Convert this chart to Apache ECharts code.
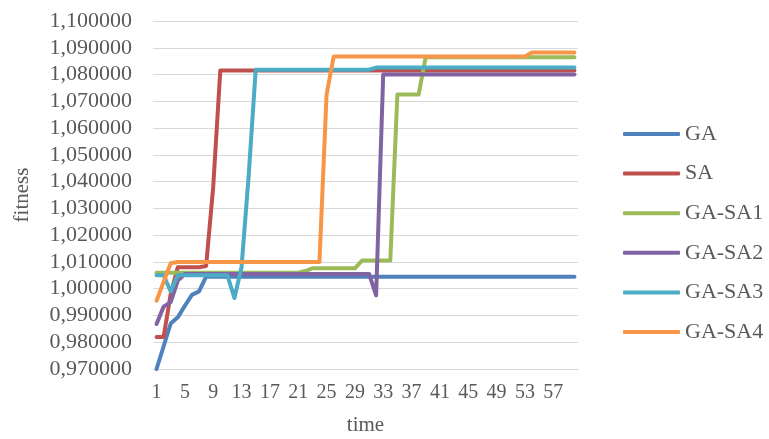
<!DOCTYPE html>
<html>
<head>
<meta charset="utf-8">
<script src="https://cdn.jsdelivr.net/npm/echarts@6/dist/echarts.min.js"></script>
<style>
html,body{margin:0;padding:0;background:#fff;}
#c{width:769px;height:439px;}
</style>
</head>
<body>
<div id="c"></div>
<script>
// categories: time steps 1..60
const categories = [];
for (let i = 1; i <= 60; i++) categories.push(String(i));

const seriesNames = ['GA', 'SA', 'GA-SA1', 'GA-SA2', 'GA-SA3', 'GA-SA4'];

const GA = [0.970, 0.9785, 0.987, 0.9893, 0.9936, 0.9977, 0.999, 1.0045, 1.0045, 1.0045,
  1.0045, 1.0045, 1.0045, 1.0045, 1.0045, 1.0045, 1.0045, 1.0045, 1.0045, 1.0045,
  1.0045, 1.0045, 1.0045, 1.0045, 1.0045, 1.0045, 1.0045, 1.0045, 1.0045, 1.0045,
  1.0045, 1.0045, 1.0045, 1.0045, 1.0045, 1.0045, 1.0045, 1.0045, 1.0045, 1.0045,
  1.0045, 1.0045, 1.0045, 1.0045, 1.0045, 1.0045, 1.0045, 1.0045, 1.0045, 1.0045,
  1.0045, 1.0045, 1.0045, 1.0045, 1.0045, 1.0045, 1.0045, 1.0045, 1.0045, 1.0045];

const SA = [0.982, 0.982, 0.998, 1.008, 1.008, 1.008, 1.008, 1.0085, 1.038, 1.0815,
  1.0815, 1.0815, 1.0815, 1.0815, 1.0815, 1.0815, 1.0815, 1.0815, 1.0815, 1.0815,
  1.0815, 1.0815, 1.0815, 1.0815, 1.0815, 1.0815, 1.0815, 1.0815, 1.0815, 1.0815,
  1.0815, 1.0815, 1.0815, 1.0815, 1.0815, 1.0815, 1.0815, 1.0815, 1.0815, 1.0815,
  1.0815, 1.0815, 1.0815, 1.0815, 1.0815, 1.0815, 1.0815, 1.0815, 1.0815, 1.0815,
  1.0815, 1.0815, 1.0815, 1.0815, 1.0815, 1.0815, 1.0815, 1.0815, 1.0815, 1.0815];

const GA_SA1 = [1.006, 1.006, 1.006, 1.006, 1.006, 1.006, 1.006, 1.006, 1.006, 1.006,
  1.006, 1.006, 1.006, 1.006, 1.006, 1.006, 1.006, 1.006, 1.006, 1.006,
  1.006, 1.0066, 1.0076, 1.0076, 1.0076, 1.0076, 1.0076, 1.0076, 1.0076, 1.0105,
  1.0105, 1.0105, 1.0105, 1.0105, 1.0725, 1.0725, 1.0725, 1.0725, 1.0865, 1.0865,
  1.0865, 1.0865, 1.0865, 1.0865, 1.0865, 1.0865, 1.0865, 1.0865, 1.0865, 1.0865,
  1.0865, 1.0865, 1.0865, 1.0865, 1.0865, 1.0865, 1.0865, 1.0865, 1.0865, 1.0865];

const GA_SA2 = [0.9868, 0.9933, 0.995, 1.003, 1.0055, 1.0055, 1.0055, 1.0055, 1.0055, 1.0055,
  1.0055, 1.0055, 1.0055, 1.0055, 1.0055, 1.0055, 1.0055, 1.0055, 1.0055, 1.0055,
  1.0055, 1.0055, 1.0055, 1.0055, 1.0055, 1.0055, 1.0055, 1.0055, 1.0055, 1.0055,
  1.0055, 0.9975, 1.080, 1.080, 1.080, 1.080, 1.080, 1.080, 1.080, 1.080,
  1.080, 1.080, 1.080, 1.080, 1.080, 1.080, 1.080, 1.080, 1.080, 1.080,
  1.080, 1.080, 1.080, 1.080, 1.080, 1.080, 1.080, 1.080, 1.080, 1.080];

const GA_SA3 = [1.005, 1.005, 0.999, 1.005, 1.005, 1.005, 1.005, 1.005, 1.005, 1.005,
  1.005, 0.9965, 1.008, 1.042, 1.0818, 1.0818, 1.0818, 1.0818, 1.0818, 1.0818,
  1.0818, 1.0818, 1.0818, 1.0818, 1.0818, 1.0818, 1.0818, 1.0818, 1.0818, 1.0818,
  1.0818, 1.0826, 1.0826, 1.0826, 1.0826, 1.0826, 1.0826, 1.0826, 1.0826, 1.0826,
  1.0826, 1.0826, 1.0826, 1.0826, 1.0826, 1.0826, 1.0826, 1.0826, 1.0826, 1.0826,
  1.0826, 1.0826, 1.0826, 1.0826, 1.0826, 1.0826, 1.0826, 1.0826, 1.0826, 1.0826];

const GA_SA4 = [0.9955, 1.0025, 1.0095, 1.010, 1.010, 1.010, 1.010, 1.010, 1.010, 1.010,
  1.010, 1.010, 1.010, 1.010, 1.010, 1.010, 1.010, 1.010, 1.010, 1.010,
  1.010, 1.010, 1.010, 1.010, 1.0724, 1.0867, 1.0867, 1.0867, 1.0867, 1.0867,
  1.0867, 1.0867, 1.0867, 1.0867, 1.0867, 1.0867, 1.0867, 1.0867, 1.0867, 1.0867,
  1.0867, 1.0867, 1.0867, 1.0867, 1.0867, 1.0867, 1.0867, 1.0867, 1.0867, 1.0867,
  1.0867, 1.0867, 1.0867, 1.0882, 1.0882, 1.0882, 1.0882, 1.0882, 1.0882, 1.0882];

const yMin = 0.97, yMax = 1.10, yStep = 0.01;
const colors = ['#4F81BD', '#C0504D', '#9BBB59', '#8064A2', '#4BACC6', '#F79646'];
const allData = [GA, SA, GA_SA1, GA_SA2, GA_SA3, GA_SA4];

const FONT = 'Liberation Serif';
const TXT = '#595959';

const chart = echarts.init(document.getElementById('c'), null, {renderer: 'canvas'});
chart.setOption({
  animation: false,
  color: colors,
  grid: {left: 153, right: 191, top: 21, bottom: 70, containLabel: false, outerBoundsMode: 'none'},
  legend: {
    orient: 'vertical',
    left: 618,
    top: 118,
    itemWidth: 57,
    itemHeight: 4,
    itemGap: 17.6,
    icon: 'roundRect',
    textStyle: {fontFamily: FONT, fontSize: 22, color: TXT, lineHeight: 22},
    data: seriesNames
  },
  xAxis: {
    type: 'category',
    data: categories,
    boundaryGap: true,
    name: 'time',
    nameLocation: 'middle',
    nameGap: 46,
    nameTextStyle: {fontFamily: FONT, fontSize: 21, color: TXT},
    axisLine: {show: true, lineStyle: {color: '#D9D9D9', width: 1}},
    axisTick: {show: false},
    axisLabel: {interval: 3, margin: 14, fontFamily: FONT, fontSize: 20, color: TXT}
  },
  yAxis: {
    type: 'value',
    min: yMin,
    max: yMax,
    interval: yStep,
    name: 'fitness',
    nameLocation: 'middle',
    nameGap: 120,
    nameRotate: 90,
    nameTextStyle: {fontFamily: FONT, fontSize: 21, color: TXT},
    axisLine: {show: false},
    axisTick: {show: false},
    splitLine: {show: true, lineStyle: {color: '#D9D9D9', width: 1}},
    axisLabel: {
      margin: 21, fontFamily: FONT, fontSize: 22, color: TXT,
      formatter: v => v.toFixed(6).replace('.', ',')
    }
  },
  series: seriesNames.map((n, i) => ({
    name: n,
    type: 'line',
    data: allData[i],
    symbol: 'none',
    showSymbol: false,
    z: 2 + i,
    lineStyle: {width: 4, color: colors[i], cap: 'round', join: 'round'},
    itemStyle: {color: colors[i]}
  }))
});
</script>
</body>
</html>
